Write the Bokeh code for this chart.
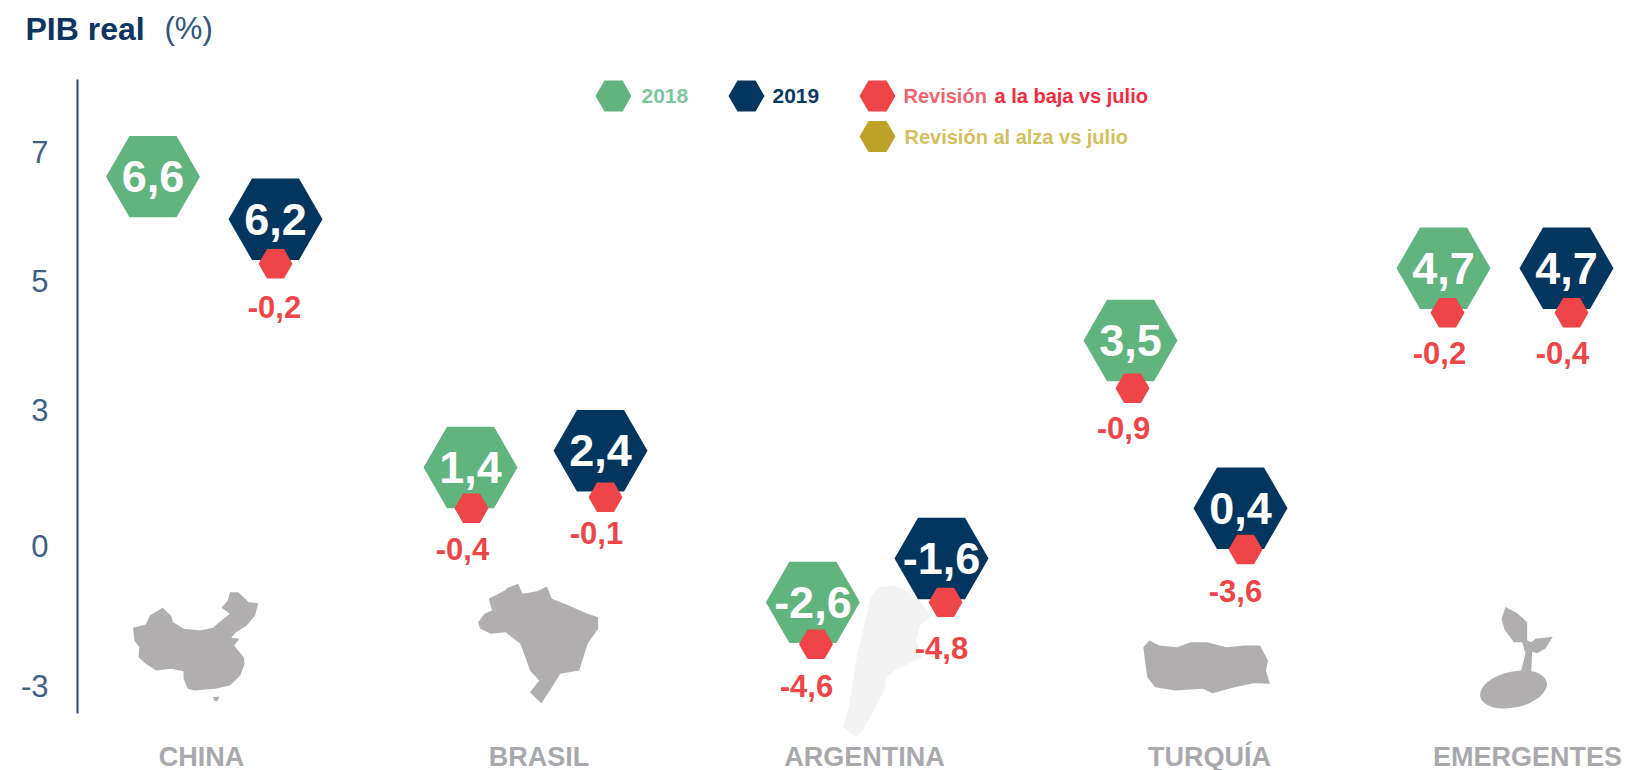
from bokeh.plotting import figure
from bokeh.embed import file_html
from bokeh.resources import INLINE
from bokeh.core.properties import value
from bokeh.models import Range1d, FixedTicker

FONT = "Liberation Sans"
GREEN, NAVY, RED, GOLD = "#62b47f", "#03365f", "#ee4548", "#bda429"
ICON, PALE = "#b0aeaf", "#f3f3f3"

categories = ["CHINA", "BRASIL", "ARGENTINA", "TURQUÍA", "EMERGENTES"]
category_x = [201, 538.5, 864, 1209, 1527]

y_ticks = [6.99, 5, 3, 0.89, -1.28]
y_tick_labels = ["7", "5", "3", "0", "-3"]

x_2018 = [152.5, 470, 812.4, 1130, 1443]
x_2019 = [275, 600, 941, 1240, 1566]
labels_2018 = ["6,6", "1,4", "-2,6", "3,5", "4,7"]
labels_2019 = ["6,2", "2,4", "-1,6", "0,4", "4,7"]
height_2018 = [6.61, 2.10, 0.01, 4.07, 5.19]
height_2019 = [5.95, 2.36, 0.69, 1.47, 5.19]

rev_x = [275, 471, 605, 815.5, 945, 1132, 1245, 1447, 1571]
rev_height = [5.26, 1.47, 1.64, -0.64, 0.01, 3.33, 0.83, 4.50, 4.50]
rev_label_x = [274, 462, 596, 806, 941, 1123, 1235, 1439, 1562]
rev_label_height = [4.59, 0.83, 1.09, -1.28, -0.70, 2.71, 0.18, 3.87, 3.87]
rev_labels = ["-0,2", "-0,4", "-0,1", "-4,6", "-4,8", "-0,9", "-3,6", "-0,2", "-0,4"]

china_outline = [(315,382),(345,372),(355,345),(385,322),(405,345),(410,365),(435,385),(475,390),(505,382),(520,365),(545,340),(525,322),(540,300),(545,275),(565,275),(590,305),(612,308),(605,345),(585,375),(560,395),(548,412),(568,415),(555,435),(578,470),(580,490),(570,525),(545,555),(510,565),(460,570),(445,565),(435,535),(435,512),(405,505),(370,510),(345,490),(328,470),(330,440),(318,420)]
hainan_outline = [(505,590),(520,588),(515,603),(507,600)]
brazil_outline = [(1135,365),(1150,340),(1168,330),(1160,295),(1175,285),(1198,270),(1205,262),(1230,250),(1240,280),(1275,272),(1298,258),(1310,295),(1350,315),(1395,340),(1420,350),(1420,385),(1395,430),(1385,470),(1375,510),(1330,520),(1310,560),(1285,608),(1258,575),(1280,540),(1258,510),(1250,480),(1235,430),(1200,395),(1165,400),(1140,385)]
argentina_outline = [(450,260),(490,255),(530,275),(560,310),(585,345),(555,375),(545,420),(560,470),(490,510),(470,530),(465,570),(440,625),(415,680),(395,710),(360,680),(375,620),(385,550),(395,470),(415,370),(430,290)]
turkey_outline = [(1120,440),(1135,420),(1160,435),(1205,440),(1240,425),(1280,425),(1330,440),(1375,435),(1415,435),(1435,480),(1430,510),(1440,550),(1400,548),(1350,560),(1295,578),(1270,565),(1200,570),(1150,560),(1130,530),(1125,490)]
sprout_outline = [(660,1300),(675,1245),(665,1215),(640,1215),(612,1180),(603,1150),(615,1118),(650,1135),(680,1160),(680,1210),(693,1215),(705,1205),(757,1200),(735,1232),(710,1245),(695,1240),(692,1300)]


def unit_y(page_y):
    return 5 + (280 - page_y) / 64.5


def outline(points, ox, oy, fx, fy):
    return [ox + a / fx for a, _ in points], [unit_y(oy + b / fy) for _, b in points]


p = figure(width=1627, height=770, output_backend="svg", toolbar_location=None,
           x_range=Range1d(0, 1627), y_range=Range1d(unit_y(770), unit_y(0)),
           min_border=0)
p.outline_line_color = None
p.grid.visible = False

ya = p.yaxis[0]
ya.fixed_location = 77
ya.ticker = FixedTicker(ticks=y_ticks)
ya.major_label_overrides = dict(zip(y_ticks, y_tick_labels))
ya.major_tick_line_color = None
ya.minor_tick_line_color = None
ya.major_tick_out = 0
ya.major_tick_in = 0
ya.axis_line_color = "#1f4e79"
ya.axis_line_width = 2
ya.bounds = (unit_y(713), unit_y(79))
ya.major_label_standoff = 29
ya.major_label_text_font = FONT
ya.major_label_text_font_size = "31px"
ya.major_label_text_color = "#3d5f85"

xa = p.xaxis[0]
xa.fixed_location = unit_y(739)
xa.ticker = FixedTicker(ticks=category_x)
xa.major_label_overrides = dict(zip(category_x, categories))
xa.major_tick_line_color = None
xa.minor_tick_line_color = None
xa.major_tick_out = 0
xa.major_tick_in = 0
xa.axis_line_color = None
xa.major_label_standoff = 2
xa.major_label_text_font = FONT
xa.major_label_text_font_style = "bold"
xa.major_label_text_font_size = "27px"
xa.major_label_text_color = "#a9a9ad"

for pts, ox, oy, fx, fy, col in [
    (argentina_outline, 700, 500, 2.529, 3, PALE),
    (china_outline, 0, 500, 2.376, 3, ICON),
    (hainan_outline, 0, 500, 2.376, 3, ICON),
    (brazil_outline, 0, 500, 2.376, 3, ICON),
    (turkey_outline, 700, 500, 2.529, 3, ICON),
    (sprout_outline, 1300, 200, 3, 2.75, ICON),
]:
    xs, ys = outline(pts, ox, oy, fx, fy)
    p.patch(xs, ys, fill_color=col, line_color=None)
p.ellipse([1513], [unit_y(689)], width=68, height=36, angle=0.22,
          width_units="screen", height_units="screen", fill_color=ICON, line_color=None)

p.scatter(x_2018, height_2018, marker="hex", size=94, fill_color=GREEN, line_color=None)
p.scatter(x_2019, height_2019, marker="hex", size=94, fill_color=NAVY, line_color=None)
p.scatter(rev_x, rev_height, marker="hex", size=34, fill_color=RED, line_color=None)


def txt(x, y, t, size, col, style="bold", align="center"):
    p.text(x, y, text=t, text_font=value(FONT), text_font_size=f"{size}px", text_font_style=style,
           text_color=col, text_align=align, text_baseline="middle")


txt(x_2018, height_2018, labels_2018, 45, "#ffffff")
txt(x_2019, height_2019, labels_2019, 45, "#ffffff")
txt(rev_label_x, rev_label_height, rev_labels, 31, RED)

legend_y = unit_y(95.5)
legend_y2 = unit_y(136)
p.scatter([613, 746, 877], [legend_y] * 3, marker="hex", size=36, fill_color=[GREEN, NAVY, RED], line_color=None)
p.scatter([877], [legend_y2], marker="hex", size=36, fill_color=GOLD, line_color=None)
txt([641], [legend_y], ["2018"], 21, "#7dc59b", align="left")
txt([772], [legend_y], ["2019"], 21, "#0a3a62", align="left")
txt([903], [legend_y], ["Revisión"], 20, "#f0646f", align="left")
txt([994], [legend_y], ["a la baja vs julio"], 20, "#f52a3c", align="left")
txt([904], [legend_y2], ["Revisión al alza vs julio"], 20, "#d4bf5e", align="left")

txt([25], [unit_y(28)], ["PIB real"], 32, "#0d3560", align="left")
txt([164], [unit_y(28)], ["(%)"], 31, "#2f5580", style="normal", align="left")

open("out.html", "w").write(file_html(p, INLINE))
